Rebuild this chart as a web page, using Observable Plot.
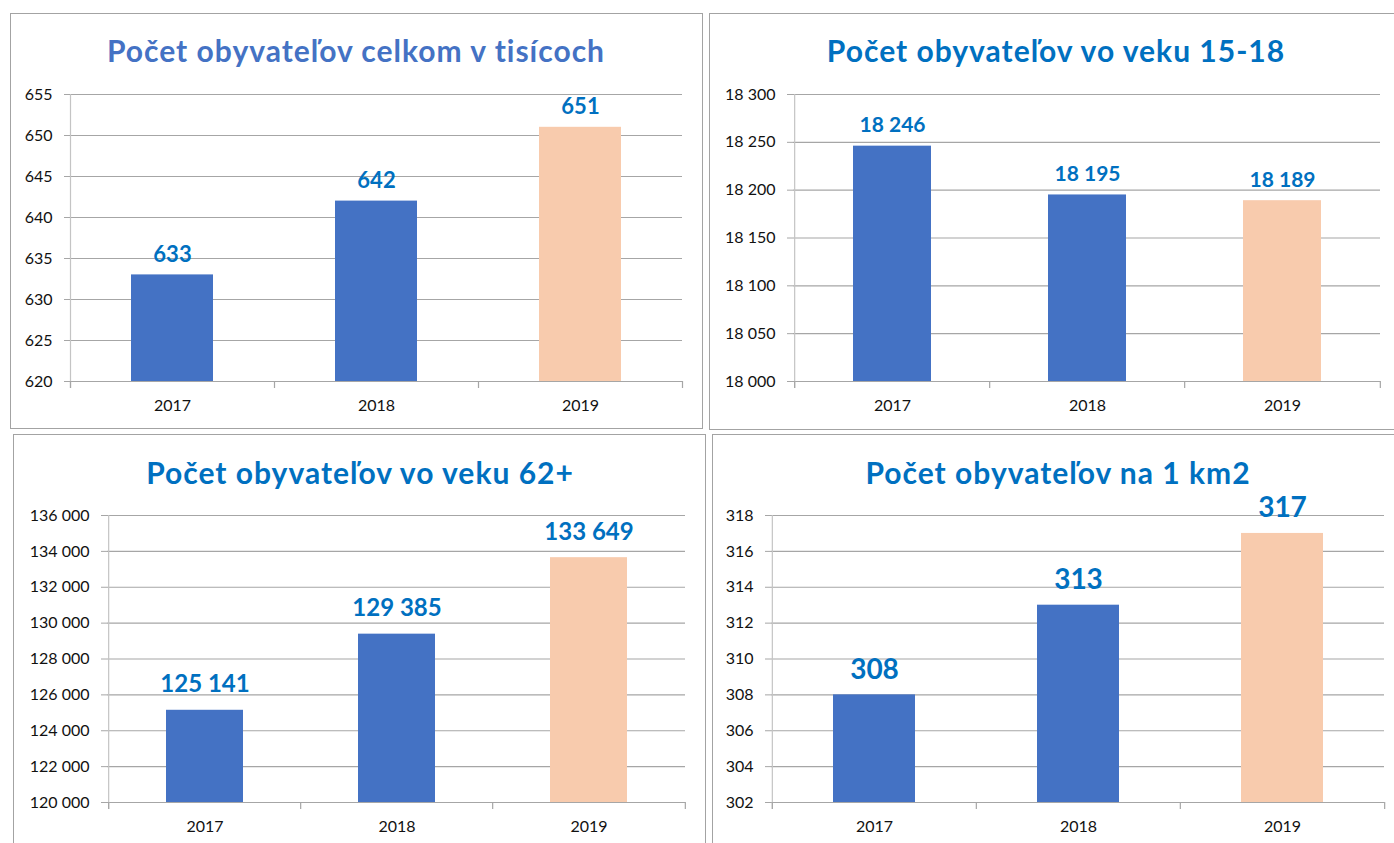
<!DOCTYPE html>
<html><head><meta charset="utf-8">
<script src="https://cdn.jsdelivr.net/npm/d3@7"></script>
<script src="https://cdn.jsdelivr.net/npm/@observablehq/plot@0.6"></script>
<style>
body{margin:0;background:#fff;width:1394px;height:843px;overflow:hidden;position:relative;font-family:Lato,"Open Sans",sans-serif}
.box{position:absolute;border:1.5px solid #a3a3a3;box-sizing:border-box}
.title{position:absolute;transform:translate(-50%,-50%);font-weight:700;font-size:30px;letter-spacing:1px;white-space:nowrap;font-family:Lato,sans-serif}
.chart{position:absolute}
</style></head><body>
<script>
// ---- data ----
const years = ["2017", "2018", "2019"];
const totalThousands = [633, 642, 651];
const age15to18 = [18246, 18195, 18189];
const age62plus = [125141, 129385, 133649];
const perKm2 = [308, 313, 317];
const ticksTotal = [620, 625, 630, 635, 640, 645, 650, 655];
const ticks15to18 = [18000, 18050, 18100, 18150, 18200, 18250, 18300];
const ticks62plus = [120000, 122000, 124000, 126000, 128000, 130000, 132000, 134000, 136000];
const ticksKm2 = [302, 304, 306, 308, 310, 312, 314, 316, 318];
const barColors = ["#4472C4", "#4472C4", "#F8CBAD"];
const titles = [
  "Počet obyvateľov celkom v tisícoch",
  "Počet obyvateľov vo veku 15-18",
  "Počet obyvateľov vo veku 62+",
  "Počet obyvateľov na 1 km2"
];

const fmt = d3.formatLocale({decimal: ",", thousands: " ", grouping: [3], currency: ["", ""]}).format(",");

// ---- layout ----
const panels = [
  {values: totalThousands, ticks: ticksTotal, title: titles[0], titleColor: "#4472C4",
   box: [10, 13, 693, 416], tx: 356, ty: 50, frame: [70, 682, 94, 381], lab: 22, gap: 13},
  {values: age15to18, ticks: ticks15to18, title: titles[1], titleColor: "#0070C0",
   box: [709, 13, 700, 417], tx: 1056, ty: 50, frame: [793, 1380, 94, 381], lab: 21, gap: 14},
  {values: age62plus, ticks: ticks62plus, title: titles[2], titleColor: "#0070C0",
   box: [13, 434, 693, 420], tx: 360, ty: 472, frame: [107, 685, 515, 802], lab: 24, gap: 18},
  {values: perKm2, ticks: ticksKm2, title: titles[3], titleColor: "#0070C0",
   box: [712, 434, 700, 420], tx: 1058, ty: 472, frame: [771, 1384, 515, 802], lab: 28, gap: 16}
];

for (const p of panels) {
  const box = document.createElement("div");
  box.className = "box";
  Object.assign(box.style, {left: p.box[0] + "px", top: p.box[1] + "px", width: p.box[2] + "px", height: p.box[3] + "px"});
  document.body.appendChild(box);

  const t = document.createElement("div");
  t.className = "title";
  t.textContent = p.title;
  Object.assign(t.style, {left: p.tx + "px", top: p.ty + "px", color: p.titleColor});
  document.body.appendChild(t);

  const [fl, fr, ft, fb] = p.frame;
  const svgLeft = p.box[0] + 2;
  const svgTop = ft - 40;
  const svgRight = Math.min(1394, p.box[0] + p.box[2]);
  const width = svgRight - svgLeft;
  const height = fb + 47 - svgTop;
  const step = (fr - fl) / 3;
  const ymin = p.ticks[0], ymax = p.ticks[p.ticks.length - 1];
  const rows = years.map((y, i) => ({year: y, value: p.values[i], color: barColors[i]}));

  const chart = Plot.plot({
    width, height,
    marginLeft: fl - svgLeft, marginRight: svgRight - fr,
    marginTop: ft - svgTop, marginBottom: height - (fb - svgTop),
    style: {fontFamily: "Lato, sans-serif", background: "transparent", overflow: "visible"},
    x: {domain: years, paddingInner: 0.6, paddingOuter: 0.3},
    y: {domain: [ymin, ymax]},
    marks: [
      Plot.ruleY(p.ticks, {stroke: "#a6a6a6", strokeWidth: 1.2}),
      Plot.ruleX(years.slice(0, 1), {x: d => d, dx: -step / 2, stroke: "#c4c4c4", strokeWidth: 1.2, insetBottom: -7}),
      Plot.ruleX(years, {x: d => d, dx: -step / 2, y1: ymin, y2: ymin, insetBottom: -7, stroke: "#a6a6a6", strokeWidth: 1.2}),
      Plot.ruleX(years.slice(-1), {x: d => d, dx: step / 2, y1: ymin, y2: ymin, insetBottom: -7, stroke: "#a6a6a6", strokeWidth: 1.2}),
      Plot.barY(rows, {x: "year", y1: ymin, y2: "value", fill: "color"}),
      Plot.text(rows, {x: "year", y: "value", text: d => fmt(d.value), lineAnchor: "bottom", dy: -p.gap,
        fill: "#0070C0", fontWeight: "bold", fontSize: p.lab}),
      Plot.axisY({ticks: p.ticks, tickFormat: fmt, tickSize: 6, tickPadding: 12, fontSize: 16,
        stroke: "#a6a6a6", fill: "#111", label: null}),
      Plot.axisX({tickSize: 0, tickPadding: 18, fontSize: 16, fill: "#111", label: null})
    ]
  });
  chart.classList.add("chart");
  chart.style.left = svgLeft + "px";
  chart.style.top = svgTop + "px";
  document.body.appendChild(chart);
}
</script>
</body></html>
